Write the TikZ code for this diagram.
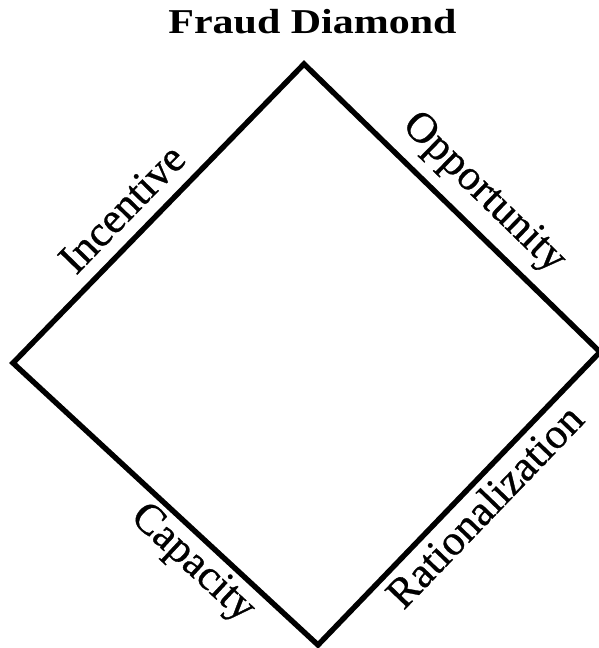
\documentclass[tikz,border=0pt]{standalone}
\usepackage{fontspec}
\setmainfont{Liberation Serif}
\newfontfamily\sidefont[FakeBold=0.7]{Liberation Serif}
\tikzset{
  side/.style={sloped, inner sep=0pt, font=\sidefont\fontsize{43}{46}\selectfont},
  edge/.style={line width=5.4pt, line join=miter}
}
\begin{document}
\begin{tikzpicture}[x=1pt, y=1pt]
   \useasboundingbox (0,0) rectangle (599,648);
   % Title
   \node (title) at (312.5,626) {\scalebox{1}[0.83]{\fontsize{42}{46}\selectfont\bfseries Fraud Diamond}};
   % Corners of the diamond
   \coordinate (top) at (304,584);
   \coordinate (left) at (13,285);
   \coordinate (bottom) at (318,3);
   \coordinate (right) at (600,296);
   \draw[edge] (top) -- (right) -- (bottom) -- (left) -- cycle;
   % Labels along the sides
   \path (left) -- node[side, above=15pt, pos=0.447] (inc) {Incentive} (top);
   \path (top) -- node[side, above=13pt, pos=0.53] (opp) {Opportunity} (right);
   \path (left) -- node[side, below=7pt, pos=0.645] (cap) {Capacity} (bottom);
   \path (bottom) -- node[side, below=8pt, pos=0.53] (rat) {Rationalization} (right);
\end{tikzpicture}
\end{document}
